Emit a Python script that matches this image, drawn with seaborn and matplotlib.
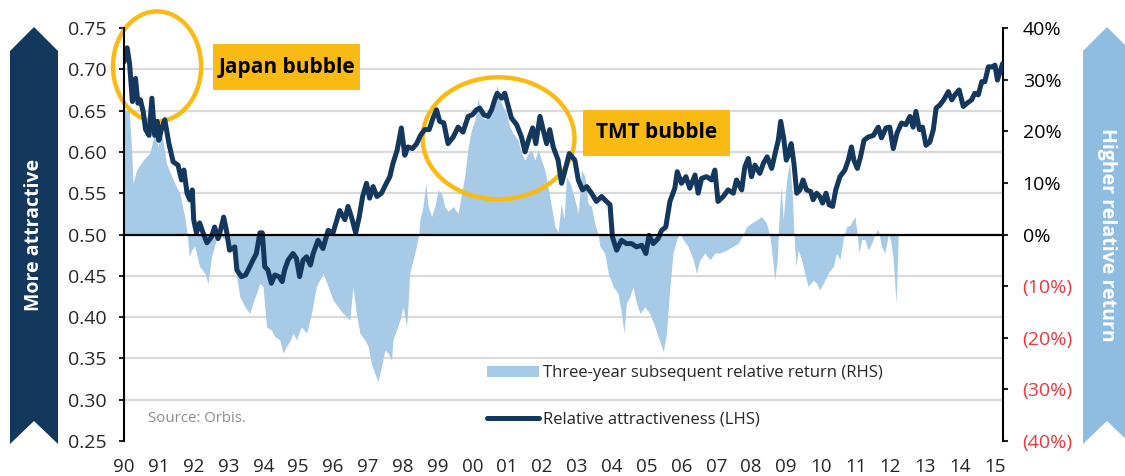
import numpy as np
import pandas as pd
import matplotlib.pyplot as plt
import seaborn as sns
from matplotlib.patches import Ellipse, Polygon, Rectangle, Patch
from matplotlib.lines import Line2D
from matplotlib.ticker import FixedLocator

# relative attractiveness (LHS)
line_years = [
    1990.00, 1990.09, 1990.16, 1990.24, 1990.33, 1990.40, 1990.47, 1990.55, 1990.62, 1990.72, 1990.80, 1990.88, 1990.95,
    1991.00, 1991.09, 1991.17, 1991.29, 1991.41, 1991.55, 1991.65, 1991.72, 1991.81, 1991.89, 1991.96,
    1992.00, 1992.08, 1992.17, 1992.27, 1992.38, 1992.51, 1992.60, 1992.70, 1992.77, 1992.86, 1992.94,
    1993.03, 1993.18, 1993.24, 1993.37, 1993.49, 1993.61, 1993.70, 1993.80, 1993.90, 1993.97,
    1994.04, 1994.13, 1994.23, 1994.33, 1994.45, 1994.54, 1994.61, 1994.71, 1994.85, 1994.95,
    1995.04, 1995.14, 1995.24, 1995.35, 1995.43, 1995.57, 1995.71, 1995.86, 1996.00,
    1996.19, 1996.34, 1996.43, 1996.53, 1996.65, 1996.75, 1996.85, 1996.96, 1997.05, 1997.15,
    1997.26, 1997.39, 1997.53, 1997.63, 1997.72, 1997.84, 1997.96, 1998.06, 1998.15, 1998.28,
    1998.40, 1998.51, 1998.63, 1998.76, 1998.87, 1998.97, 1999.06, 1999.18, 1999.30, 1999.45,
    1999.59, 1999.73, 1999.88, 2000.00, 2000.12, 2000.21, 2000.33, 2000.45, 2000.55, 2000.64,
    2000.71, 2000.84, 2000.93, 2001.03, 2001.12, 2001.27, 2001.41, 2001.51, 2001.63, 2001.73,
    2001.82, 2001.94, 2002.03, 2002.13, 2002.22, 2002.32, 2002.46, 2002.56, 2002.65, 2002.78,
    2002.94, 2003.04, 2003.16, 2003.28, 2003.42, 2003.56, 2003.71, 2003.85, 2003.95, 2004.02,
    2004.14, 2004.28, 2004.42, 2004.57, 2004.71, 2004.86, 2004.98, 2005.07, 2005.19, 2005.33,
    2005.43, 2005.55, 2005.67, 2005.81, 2005.88, 2006.00, 2006.13, 2006.24, 2006.39, 2006.48,
    2006.58, 2006.72, 2006.87, 2006.96, 2007.05, 2007.20, 2007.34, 2007.49, 2007.58, 2007.73,
    2007.82, 2007.92, 2008.01, 2008.11, 2008.25, 2008.35, 2008.46, 2008.59, 2008.71, 2008.78,
    2008.85, 2008.94, 2009.01, 2009.06, 2009.15, 2009.23, 2009.31,
    2009.40, 2009.49, 2009.59, 2009.71, 2009.78, 2009.88, 2009.97, 2010.05, 2010.15, 2010.24,
    2010.34, 2010.43, 2010.55, 2010.69, 2010.79, 2010.88, 2010.95, 2011.05, 2011.14, 2011.24,
    2011.36, 2011.51, 2011.65, 2011.74, 2011.87, 2011.98, 2012.08, 2012.19, 2012.32, 2012.44,
    2012.56, 2012.65, 2012.73, 2012.83, 2012.92, 2013.02, 2013.13, 2013.23, 2013.31, 2013.42,
    2013.53, 2013.66, 2013.76, 2013.85, 2013.97, 2014.09, 2014.20, 2014.33, 2014.42, 2014.52,
    2014.62, 2014.71, 2014.81, 2014.93, 2015.00, 2015.07, 2015.16, 2015.22,
]
attract = [
    0.709, 0.726, 0.707, 0.661, 0.689, 0.659, 0.663, 0.649, 0.627, 0.620, 0.665, 0.620, 0.637,
    0.614, 0.630, 0.639, 0.610, 0.588, 0.584, 0.566, 0.578, 0.550, 0.542, 0.554,
    0.518, 0.502, 0.514, 0.502, 0.490, 0.497, 0.509, 0.495, 0.505, 0.521, 0.505,
    0.481, 0.485, 0.457, 0.449, 0.451, 0.461, 0.469, 0.477, 0.502, 0.502,
    0.461, 0.457, 0.441, 0.451, 0.449, 0.443, 0.457, 0.469, 0.477, 0.471,
    0.449, 0.469, 0.473, 0.463, 0.477, 0.493, 0.483, 0.505, 0.502,
    0.529, 0.518, 0.534, 0.521, 0.502, 0.521, 0.546, 0.562, 0.544, 0.558,
    0.546, 0.550, 0.562, 0.570, 0.586, 0.602, 0.629, 0.596, 0.606, 0.604,
    0.610, 0.620, 0.627, 0.627, 0.641, 0.651, 0.637, 0.635, 0.610, 0.618,
    0.630, 0.624, 0.643, 0.645, 0.651, 0.653, 0.645, 0.643, 0.651, 0.663,
    0.671, 0.665, 0.671, 0.655, 0.641, 0.633, 0.618, 0.600, 0.617, 0.629,
    0.610, 0.643, 0.627, 0.610, 0.627, 0.606, 0.590, 0.562, 0.576, 0.598,
    0.590, 0.566, 0.554, 0.558, 0.550, 0.540, 0.546, 0.540, 0.536, 0.497,
    0.481, 0.493, 0.489, 0.489, 0.485, 0.487, 0.477, 0.499, 0.489, 0.495,
    0.505, 0.509, 0.540, 0.556, 0.576, 0.562, 0.570, 0.556, 0.572, 0.550,
    0.568, 0.570, 0.566, 0.578, 0.540, 0.546, 0.554, 0.550, 0.566, 0.554,
    0.582, 0.592, 0.570, 0.584, 0.574, 0.586, 0.594, 0.580, 0.602, 0.614,
    0.637, 0.615, 0.590, 0.595, 0.610, 0.586, 0.550,
    0.554, 0.566, 0.554, 0.552, 0.542, 0.550, 0.546, 0.538, 0.550, 0.536,
    0.534, 0.554, 0.570, 0.578, 0.590, 0.606, 0.590, 0.580, 0.594, 0.614,
    0.618, 0.620, 0.630, 0.617, 0.629, 0.630, 0.604, 0.623, 0.635, 0.633,
    0.643, 0.630, 0.649, 0.627, 0.630, 0.608, 0.612, 0.627, 0.653, 0.657,
    0.663, 0.673, 0.663, 0.669, 0.675, 0.655, 0.659, 0.663, 0.671, 0.669,
    0.685, 0.685, 0.703, 0.703, 0.705, 0.687, 0.699, 0.707,
]

# three-year subsequent relative return (RHS, %)
area_years = [
    1990.00, 1990.15, 1990.22, 1990.26, 1990.36, 1990.55, 1990.74, 1990.88, 1990.98, 1991.07,
    1991.22, 1991.41, 1991.60, 1991.74, 1991.82, 1991.87, 1991.94, 1992.03, 1992.17, 1992.32,
    1992.41, 1992.51, 1992.65, 1992.80, 1992.94, 1993.13, 1993.32, 1993.47, 1993.61, 1993.70,
    1993.90, 1993.99, 1994.09, 1994.23, 1994.33, 1994.47, 1994.57, 1994.66, 1994.78, 1994.85,
    1994.95, 1995.09, 1995.24, 1995.38, 1995.52, 1995.71, 1995.86, 1996.00, 1996.14, 1996.29,
    1996.48, 1996.57, 1996.67, 1996.77, 1996.91, 1997.01, 1997.10, 1997.20, 1997.29, 1997.39,
    1997.49, 1997.58, 1997.68, 1997.72, 1997.82, 1997.92, 1998.01, 1998.11, 1998.15, 1998.20,
    1998.30, 1998.39, 1998.46, 1998.49, 1998.58, 1998.66, 1998.73, 1998.83, 1998.92, 1999.02,
    1999.11, 1999.21, 1999.30, 1999.45, 1999.59, 1999.69, 1999.78, 1999.88, 1999.97, 2000.07,
    2000.16, 2000.26, 2000.36, 2000.45, 2000.55, 2000.64, 2000.71, 2000.79, 2000.88, 2000.98,
    2001.07, 2001.17, 2001.31, 2001.41, 2001.50, 2001.60, 2001.70, 2001.79, 2001.89, 2001.98,
    2002.08, 2002.17, 2002.27, 2002.37, 2002.46, 2002.55, 2002.63, 2002.70, 2002.80, 2002.94,
    2003.04, 2003.13, 2003.23, 2003.32, 2003.42, 2003.51, 2003.61, 2003.66, 2003.80, 2003.90,
    2004.04, 2004.18, 2004.28, 2004.35, 2004.42, 2004.52, 2004.61, 2004.71, 2004.81, 2004.95,
    2005.09, 2005.24, 2005.36, 2005.48, 2005.57, 2005.67, 2005.76, 2005.86, 2005.95, 2006.05,
    2006.19, 2006.34, 2006.43, 2006.53, 2006.67, 2006.82, 2006.96, 2007.10, 2007.30, 2007.48,
    2007.63, 2007.77, 2007.87, 2008.01, 2008.16, 2008.30, 2008.44, 2008.54, 2008.63, 2008.68,
    2008.75, 2008.80, 2008.86, 2008.92, 2009.02, 2009.10, 2009.18, 2009.23, 2009.29, 2009.35,
    2009.45, 2009.54, 2009.64, 2009.78, 2009.88, 2009.97, 2010.07, 2010.21, 2010.36, 2010.45,
    2010.55, 2010.64, 2010.74, 2010.84, 2010.98, 2011.05, 2011.10, 2011.17, 2011.27, 2011.36,
    2011.46, 2011.55, 2011.65, 2011.74, 2011.84, 2011.94, 2012.00, 2012.08, 2012.13, 2012.16,
    2012.19, 2012.22,
]
rel_return = [
    24.1, 24.0, 16.0, 9.9, 12.5, 14.4, 15.8, 19.7, 17.0, 20.2,
    13.8, 10.6, 8.0, 3.5, 0.0, -4.3, -3.0, -2.3, -6.2, -7.5,
    -9.5, -4.3, -1.0, -0.5, -1.0, -3.6, -12.0, -14.0, -15.3, -13.3,
    -9.5, -10.1, -17.9, -18.5, -19.8, -20.4, -23.0, -21.7, -20.4, -19.1,
    -20.4, -17.9, -19.1, -15.3, -10.1, -7.5, -10.1, -12.7, -14.0, -15.3,
    -16.6, -10.1, -15.3, -19.1, -20.4, -21.7, -25.0, -26.9, -28.5, -25.6,
    -22.4, -23.0, -24.3, -20.4, -18.5, -16.6, -14.0, -17.9, -14.0, -7.5,
    -4.9, -2.3, 0.0, 2.8, 5.4, 9.9, 5.4, 3.5, 5.4, 8.6,
    8.0, 5.4, 4.5, 5.4, 4.1, 8.0, 11.2, 17.0, 20.2, 22.2,
    26.4, 23.5, 22.2, 22.8, 24.8, 26.1, 29.0, 26.1, 24.8, 23.5,
    20.9, 19.6, 18.3, 15.7, 14.4, 15.7, 16.4, 14.4, 16.4, 14.4,
    12.5, 9.3, 5.4, 1.5, 0.5, 6.0, 3.0, 11.2, 10.0, 6.7,
    4.1, 12.5, 11.2, 6.0, 5.4, 2.2, 0.0, -2.3, -3.6, -7.5,
    -10.1, -11.4, -15.3, -19.1, -13.3, -12.0, -10.1, -13.3, -15.3, -14.0,
    -15.3, -17.9, -20.4, -22.7, -19.1, -10.1, -3.6, -1.0, 0.2, -1.0,
    -2.3, -4.9, -7.5, -4.9, -3.6, -4.9, -3.6, -3.6, -3.0, -2.3,
    -1.7, 0.0, 1.5, 2.2, 2.8, 3.5, 2.2, -0.3, -5.6, -8.8,
    -4.9, 3.0, 9.3, 3.0, 10.6, 14.0, 8.0, 0.0, -6.2, -3.0,
    -4.9, -7.5, -10.1, -8.8, -9.5, -10.7, -9.5, -7.5, -6.2, -3.6,
    -4.9, -1.0, 1.5, 1.8, 3.5, -0.3, -3.6, -1.0, -1.0, -3.0,
    -1.7, 0.0, 1.0, -2.3, -3.6, 0.0, -1.0, -4.9, -10.1, -13.3,
    -7.5, -1.0,
]

tick_years = list(range(1990, 2016))
year_labels = ['90', '91', '92', '93', '94', '95', '96', '97', '98', '99', '00', '01', '02',
               '03', '04', '05', '06', '07', '08', '09', '10', '11', '12', '13', '14', '15']
lhs_ticks = [0.25, 0.30, 0.35, 0.40, 0.45, 0.50, 0.55, 0.60, 0.65, 0.70, 0.75]
rhs_ticks = [-40, -30, -20, -10, 0, 10, 20, 30, 40]
rhs_labels = ['(40%)', '(30%)', '(20%)', '(10%)', '0%', '10%', '20%', '30%', '40%']

navy = '#14375e'
area_col = '#a7cae6'
gold = '#f9bb13'
light_blue = '#8fbde2'
red = '#e8383d'
grid_col = '#dadada'

sns.set_style('white')
plt.rcParams['font.family'] = ['Open Sans', 'DejaVu Sans']

W, H = 1125, 476
fig = plt.figure(figsize=(W / 100, H / 100), dpi=100)


def fx(x):
    return x / W


def fy(y):
    return 1 - y / H


ax = fig.add_axes([fx(124), fy(441), fx(1003) - fx(124), fy(28) - fy(441)])
ax2 = ax.twinx()
ax.set_zorder(ax2.get_zorder() + 1)
ax.patch.set_visible(False)

# area (right axis), behind the line
ax2.fill_between(area_years, rel_return, 0, color=area_col, linewidth=0)
ax2.set_ylim(-40, 40)
ax2.set_yticks(rhs_ticks)
ax2.set_yticklabels(rhs_labels)
for lab, v in zip(ax2.get_yticklabels(), rhs_ticks):
    lab.set_color(red if v < 0 else 'black')
# gridlines sit at the LHS tick levels, drawn on ax2 so the area covers them
ax2.yaxis.set_minor_locator(FixedLocator([(v - 0.5) * 160 for v in lhs_ticks]))
ax2.grid(which='minor', axis='y', color=grid_col, linewidth=1.6)
ax2.set_axisbelow(True)
ax2.tick_params(axis='y', which='minor', length=0)
ax2.tick_params(axis='y', which='major', direction='out', length=3.6, width=1.5, pad=10.5, labelsize=14)
for s in ['top', 'left', 'bottom']:
    ax2.spines[s].set_visible(False)
ax2.spines['right'].set_linewidth(1.5)
ax2.spines['right'].set_color('black')

# line (left axis)
df = pd.DataFrame({'year': line_years, 'attract': attract})
sns.lineplot(data=df, x='year', y='attract', ax=ax, color=navy, linewidth=3.6, legend=False)
ax.set_xlabel('')
ax.set_ylabel('')
ax.set_xlim(1990, 2015.23)
ax.set_ylim(0.25, 0.75)
ax.set_yticks(lhs_ticks)
ax.set_yticklabels([f'{v:.2f}' for v in lhs_ticks])
ax.tick_params(axis='y', direction='out', length=3.6, width=1.5, pad=9, labelsize=14)
ax.spines['top'].set_visible(False)
ax.spines['right'].set_visible(False)
ax.spines['left'].set_linewidth(1.5)
ax.spines['left'].set_color('black')
ax.spines['bottom'].set_position(('data', 0.5))
ax.spines['bottom'].set_linewidth(1.6)
ax.spines['bottom'].set_color('black')

ax.set_xticks(tick_years)
ax.set_xticklabels(year_labels)
ax.tick_params(axis='x', direction='out', length=4, width=1.5, labelbottom=False)
ax2.xaxis.set_visible(True)
ax2.tick_params(axis='x', length=0, pad=12, labelsize=13.5, labelbottom=True)

# bubble annotations
ax.add_patch(Ellipse((1990.95, 0.7036), 2.53, 0.133, fill=False, edgecolor=gold, linewidth=3.2, clip_on=False))
ax.add_patch(Ellipse((2000.75, 0.6165), 4.36, 0.1477, fill=False, edgecolor=gold, linewidth=3.2, clip_on=False))
for x0, y0, txt in [(213, 44, 'Japan bubble'), (583, 110, 'TMT bubble')]:
    fig.add_artist(Rectangle((fx(x0), fy(y0 + 46)), fx(147), 46 / H, transform=fig.transFigure,
                             facecolor=gold, edgecolor='none'))
    fig.text(fx(x0 + 73.5), fy(y0 + 23), txt, ha='center', va='center', fontsize=15,
             fontweight='bold', color='black')

# side banners
left_banner = [(10, 51), (34, 27), (58, 51), (58, 444), (34, 421), (10, 444)]
right_banner = [(1083, 51), (1107, 27), (1131, 51), (1131, 444), (1107, 421), (1083, 444)]
fig.add_artist(Polygon([(fx(a), fy(b)) for a, b in left_banner], closed=True, transform=fig.transFigure,
                       facecolor=navy, edgecolor='none'))
fig.add_artist(Polygon([(fx(a), fy(b)) for a, b in right_banner], closed=True, transform=fig.transFigure,
                       facecolor=light_blue, edgecolor='none'))
fig.text(fx(34), fy(235), 'More attractive', rotation=90, ha='center', va='center',
         color='white', fontsize=14, fontweight='bold')
fig.text(fx(1107), fy(235), 'Higher relative return', rotation=270, ha='center', va='center',
         color='white', fontsize=14, fontweight='bold')

# legend and source
handles = [Patch(facecolor=area_col, edgecolor='none', label='Three-year subsequent relative return (RHS)'),
           Line2D([0], [0], color=navy, linewidth=3.6, label='Relative attractiveness (LHS)')]
ax.legend(handles=handles, loc='upper left', bbox_to_anchor=(fx(487), fy(365)), bbox_transform=fig.transFigure,
          frameon=False, fontsize=12, handlelength=3.1, handleheight=0.65, handletextpad=0.25,
          labelspacing=1.85, borderaxespad=0, borderpad=0)
fig.text(fx(148), fy(418), 'Source: Orbis.', color='#8c8c8c', fontsize=10.8, va='center')

fig.savefig('out.png', dpi=100)
